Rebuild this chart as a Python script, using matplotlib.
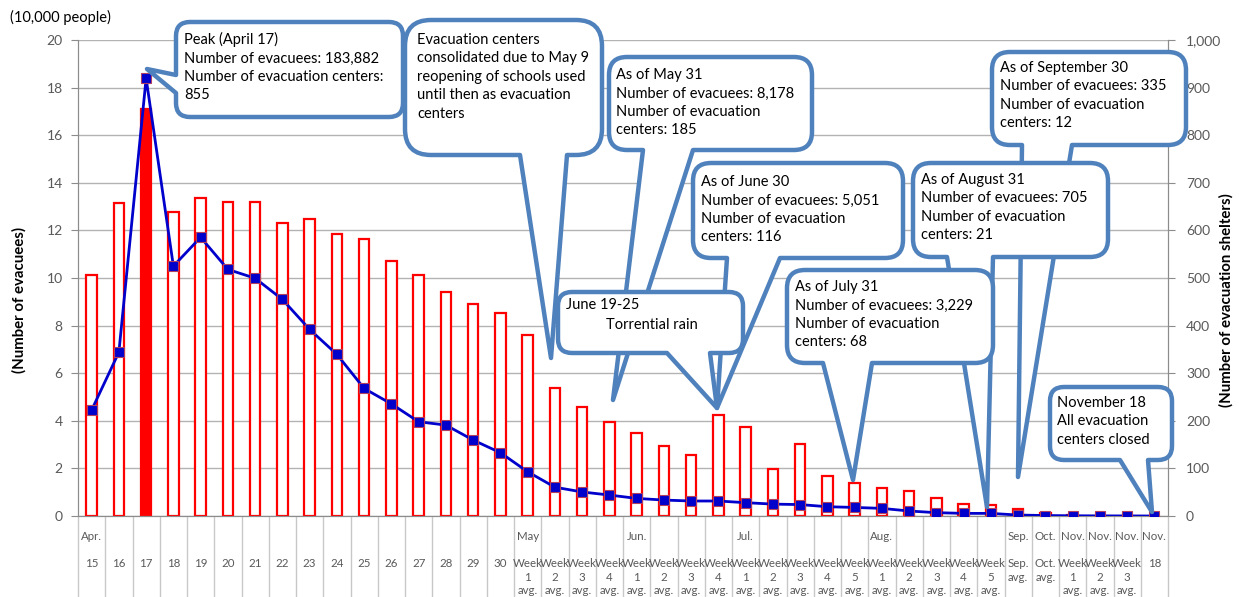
import matplotlib
matplotlib.use("Agg")
import matplotlib.pyplot as plt
import numpy as np
from matplotlib.path import Path
from matplotlib.patches import PathPatch
from matplotlib.transforms import Affine2D, blended_transform_factory
from matplotlib.ticker import FuncFormatter

plt.rcParams['font.family'] = ['Lato', 'DejaVu Sans']

W, H = 1239, 597

# ---- data ----
month_labels = ["Apr."] + [""] * 15 + ["May", "", "", "", "Jun.", "", "", "",
                "Jul.", "", "", "", "", "Aug.", "", "", "", "", "Sep.", "Oct.",
                "Nov.", "Nov.", "Nov.", "Nov."]
period_labels = [str(d) for d in range(15, 31)] + \
    ["Week\n1\navg.", "Week\n2\navg.", "Week\n3\navg.", "Week\n4\navg."] + \
    ["Week\n1\navg.", "Week\n2\navg.", "Week\n3\navg.", "Week\n4\navg."] + \
    ["Week\n1\navg.", "Week\n2\navg.", "Week\n3\navg.", "Week\n4\navg.", "Week\n5\navg."] + \
    ["Week\n1\navg.", "Week\n2\navg.", "Week\n3\navg.", "Week\n4\navg.", "Week\n5\navg."] + \
    ["Sep.\navg.", "Oct.\navg."] + \
    ["Week\n1\navg.", "Week\n2\navg.", "Week\n3\navg.", "18"]

# number of evacuation shelters (right axis)
shelters = [506, 657, 855, 639, 669, 660, 659, 615, 625, 592, 582, 535, 506, 470, 445, 426,
            380, 268, 228, 197,
            175, 148, 129, 212,
            186, 99, 151, 83, 70,
            58, 53, 37, 25, 23,
            15, 7,
            3, 1, 1, 0]
# number of evacuees, 10,000 people (left axis)
evacuees = [4.45, 6.88, 18.39, 10.5, 11.71, 10.36, 9.99, 9.10, 7.84, 6.79, 5.36, 4.71, 3.96, 3.82, 3.19, 2.66,
            1.86, 1.21, 1.01, 0.88,
            0.74, 0.67, 0.63, 0.63,
            0.56, 0.50, 0.48, 0.39, 0.36,
            0.32, 0.21, 0.14, 0.11, 0.11,
            0.04, 0.02,
            0.01, 0.005, 0.003, 0.0]
peak_idx = 2

BLUE_EDGE = "#4F81BD"
GREY = "#595959"

fig = plt.figure(figsize=(W / 100, H / 100), dpi=100)
ax = fig.add_axes([78 / W, 1 - 516 / H, (1168 - 78) / W, 476 / H])
ax2 = ax.twinx()

x = np.arange(len(shelters))
faces = ["red" if i == peak_idx else "white" for i in x]
ax2.bar(x, shelters, width=0.38, color=faces, edgecolor="red", linewidth=1.6, zorder=2)
ax2.set_ylim(0, 1000)
ax2.set_yticks(np.arange(0, 1001, 100))
ax2.yaxis.set_major_formatter(FuncFormatter(lambda v, p: f"{v:,.0f}"))
ax2.yaxis.grid(True, color="#B3B3B3", lw=1)
ax2.set_axisbelow(True)

ax.plot(x, evacuees, color="#0000CC", lw=2.0, marker="s", ms=7.5, mfc="#0000CC",
        mec="#B04060", mew=0.8, zorder=3)
ax.set_ylim(0, 20)
ax.set_yticks(np.arange(0, 21, 2))
ax.set_xlim(-0.5, len(x) - 0.5)
ax.set_zorder(ax2.get_zorder() + 1)
ax.patch.set_visible(False)

for a in (ax, ax2):
    for s in a.spines.values():
        s.set_color("#8C8C8C")
    a.spines["top"].set_visible(False)
    a.tick_params(axis="y", colors="#8C8C8C", labelcolor=GREY, labelsize=10, length=5)
    a.set_xticks([])
ax.tick_params(axis="y", pad=6)
ax2.tick_params(axis="y", pad=8)

# category table below the axis
sep_tr = blended_transform_factory(ax.transData, ax.transAxes)
bottom_ax = -(H - 516) / 476
ax.vlines(np.arange(len(x) + 1) - 0.5, bottom_ax, 0, transform=sep_tr,
          color="#C8C8C8", lw=1, clip_on=False)
for i in x:
    ax.text(i, -(537 - 516) / 476, month_labels[i], transform=sep_tr, ha="center",
            va="center", fontsize=8.3, color=GREY)
    ax.text(i, -(558 - 516) / 476, period_labels[i], transform=sep_tr, ha="center",
            va="top", fontsize=8.3, color=GREY, linespacing=1.3)

# axis titles
fig.text(19 / W, 1 - 300 / H, "(Number of evacuees)", rotation=90, ha="center",
         va="center", fontsize=10.8, fontweight="bold", color="black")
fig.text(1226 / W, 1 - 300 / H, "(Number of evacuation shelters)", rotation=90,
         ha="center", va="center", fontsize=10.8, fontweight="bold", color="black")
fig.text(10 / W, 1 - 17 / H, "(10,000 people)", ha="left", va="center",
         fontsize=10.5, color="black")

# ---- callouts (geometry in image pixels, y from top) ----
px = Affine2D().scale(1 / W, -1 / H).translate(0, 1) + fig.transFigure


def callout(box, base, tip, side="bottom", r=14, z=10):
    x0, y0, x1, y1 = box
    a, b = base
    v, c = [], []

    def mv(p):
        v.append(p); c.append(Path.MOVETO)

    def ln(p):
        v.append(p); c.append(Path.LINETO)

    def cv(ctrl, p):
        v.extend([ctrl, p]); c.extend([Path.CURVE3, Path.CURVE3])

    mv((x0 + r, y0))
    ln((x1 - r, y0))
    cv((x1, y0), (x1, y0 + r))
    ln((x1, y1 - r))
    cv((x1, y1), (x1 - r, y1))
    if side == "bottom":
        ln((b, y1)); ln(tip); ln((a, y1))
    ln((x0 + r, y1))
    cv((x0, y1), (x0, y1 - r))
    if side == "left":
        ln((x0, b)); ln(tip); ln((x0, a))
    ln((x0, y0 + r))
    cv((x0, y0), (x0 + r, y0))
    c.append(Path.CLOSEPOLY); v.append((x0 + r, y0))
    patch = PathPatch(Path(v, c), transform=px, facecolor="white",
                      edgecolor=BLUE_EDGE, lw=3.2, joinstyle="round", zorder=z)
    fig.add_artist(patch)


def ctext(xp, yp, s, z, ha="left"):
    fig.text(xp / W, 1 - yp / H, s, ha=ha, va="top", fontsize=10.5,
             color="black", linespacing=1.4, zorder=z + 0.5)


callout((176, 22, 403, 117), (75, 93), (147, 69), side="left", z=10)
ctext(184, 32, "Peak (April 17)\nNumber of evacuees: 183,882\nNumber of evacuation centers:\n855", 10)

callout((405, 20, 602, 155), (520, 567), (551, 358), r=26, z=11)
ctext(417, 33, "Evacuation centers\nconsolidated due to May 9\nreopening of schools used\nuntil then as evacuation\ncenters", 11)

callout((609, 57, 812, 150), (643, 693), (613, 400), r=18, z=12)
ctext(616, 68, "As of May 31\nNumber of evacuees: 8,178\nNumber of evacuation\ncenters: 185", 12)

callout((693, 163, 903, 258), (727, 780), (717, 408), r=18, z=13)
ctext(701, 175, "As of June 30\nNumber of evacuees: 5,051\nNumber of evacuation\ncenters: 116", 13)

callout((558, 292, 743, 353), (667, 710), (717, 408), r=14, z=14)
ctext(566, 298, "June 19-25", 14)
ctext(652, 318, "Torrential rain", 14, ha="center")

callout((992, 52, 1186, 145), (1022, 1072), (1018, 477), r=18, z=15)
ctext(1000, 61, "As of September 30\nNumber of evacuees: 335\nNumber of evacuation\ncenters: 12", 15)

callout((913, 163, 1108, 257), (947, 993), (987, 507), r=18, z=16)
ctext(921, 173, "As of August 31\nNumber of evacuees: 705\nNumber of evacuation\ncenters: 21", 16)

callout((787, 270, 993, 363), (823, 872), (853, 480), r=18, z=17)
ctext(795, 280, "As of July 31\nNumber of evacuees: 3,229\nNumber of evacuation\ncenters: 68", 17)

callout((1050, 387, 1172, 460), (1120, 1148), (1152, 512), r=14, z=18)
ctext(1057, 396, "November 18\nAll evacuation\ncenters closed", 18)

fig.savefig("out.png", dpi=100)
